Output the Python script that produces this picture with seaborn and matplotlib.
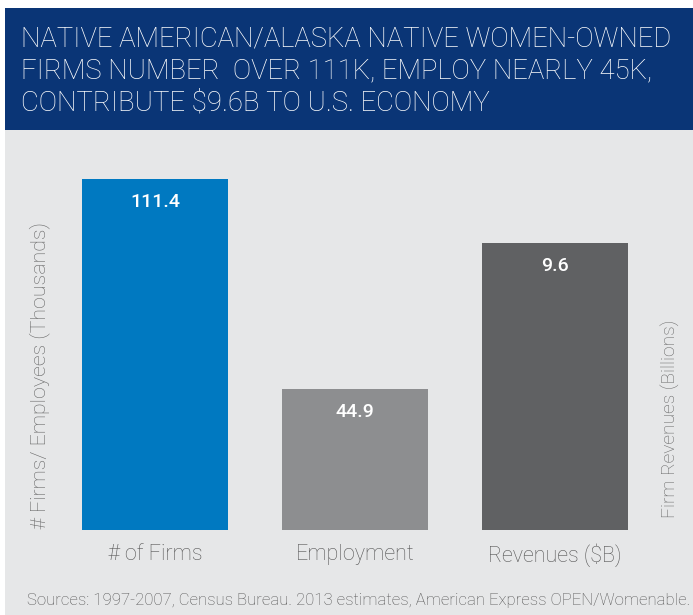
import matplotlib
matplotlib.use("Agg")
import matplotlib.pyplot as plt
import seaborn as sns
from matplotlib.patches import Rectangle

# Dados do gráfico
categories = ["# of Firms", "Employment", "Revenues ($B)"]
thousands_values = [111.4, 44.9]      # eixo esquerdo (milhares)
billions_values = [9.6]               # eixo direito (bilhões)
bar_colors = ["#0079c1", "#8d8e90", "#606163"]

title_lines = [
    "NATIVE AMERICAN/ALASKA NATIVE WOMEN-OWNED",
    "FIRMS NUMBER  OVER 111K, EMPLOY NEARLY 45K,",
    "CONTRIBUTE $9.6B TO U.S. ECONOMY",
]
source_text = "Sources: 1997-2007, Census Bureau. 2013 estimates, American Express OPEN/Womenable."

sns.set_theme(style="white")
plt.rcParams["font.family"] = ["Roboto", "DejaVu Sans"]

W, H = 693, 615
fig = plt.figure(figsize=(W / 100, H / 100), dpi=100)
fig.patch.set_facecolor("white")

# fundo cinza e faixa do título
fig.add_artist(Rectangle((5 / W, 0), 1, 1 - 130 / H, transform=fig.transFigure,
                         facecolor="#e6e7e8", edgecolor="none", zorder=0))
fig.add_artist(Rectangle((5 / W, 1 - 130 / H), 1, 122 / H, transform=fig.transFigure,
                         facecolor="#0a3576", edgecolor="none", zorder=0))
for i, line in enumerate(title_lines):
    fig.text(21 / W, 1 - (39 + i * 32) / H, line, color="white", fontsize=19.8,
             fontweight="light", va="center", ha="left")

ax = fig.add_axes([55 / W, 1 - 530 / H, 600 / W, 380 / H])
ax.set_facecolor("none")
ax2 = ax.twinx()

sns.barplot(x=categories[:2], y=thousands_values, order=categories, ax=ax,
            palette=bar_colors[:2], hue=categories[:2], legend=False,
            width=0.73, saturation=1, linewidth=0, edgecolor="none")
sns.barplot(x=categories[2:], y=billions_values, order=categories, ax=ax2,
            palette=bar_colors[2:], hue=categories[2:], legend=False,
            width=0.73, saturation=1, linewidth=0, edgecolor="none")

ax.set_xlim(-0.5, 2.5)
ax.set_ylim(0, 111.4 * 380 / 351)
ax2.set_ylim(0, 9.6 * 380 / 287)

for a in (ax, ax2):
    a.set_yticks([])
    a.set_ylabel("")
    for s in a.spines.values():
        s.set_visible(False)

ax.tick_params(axis="x", length=0, pad=10, labelsize=15.5, labelcolor="#555555")
for t in ax.get_xticklabels():
    t.set_fontweight("light")
ax.set_xlabel("")

for i, v in enumerate(thousands_values):
    ax.annotate(f"{v}", (i, v), xytext=(0, -23), textcoords="offset pixels",
                ha="center", va="center", color="white", fontsize=14, fontweight="medium")
ax2.annotate(f"{billions_values[0]}", (2, billions_values[0]), xytext=(0, -23),
             textcoords="offset pixels", ha="center", va="center", color="white",
             fontsize=14, fontweight="medium")

fig.text(40 / W, 1 - 529 / H, "# Firms/ Employees (Thousands)", rotation=90,
         ha="center", va="bottom", fontsize=15.4, color="#666666", fontweight="light")
fig.text(671 / W, 1 - 518 / H, "Firm Revenues (Billions)", rotation=90,
         ha="center", va="bottom", fontsize=13.8, color="#666666", fontweight="light")

fig.text(27 / W, 1 - 600 / H, source_text, ha="left", va="center",
         fontsize=12.1, color="#555555", fontweight="light")

fig.savefig("out.png", dpi=100)
